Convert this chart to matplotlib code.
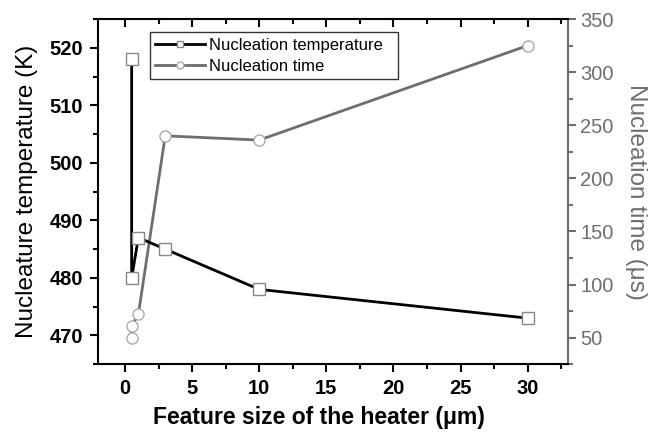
import matplotlib
matplotlib.use("Agg")
import matplotlib.pyplot as plt
from matplotlib.ticker import MultipleLocator

plt.rcParams['font.family'] = ['Liberation Sans', 'DejaVu Sans']

# Feature size of the heater (um)
size_temp = [0.5, 0.5, 1, 3, 10, 30]
temperature = [518, 480, 487, 485, 478, 473]   # K

size_time = [0.5, 0.5, 1, 3, 10, 30]
nuc_time = [50, 61, 72, 240, 236, 325]          # us

gray = '#6e6e6e'

fig = plt.figure(figsize=(6.54, 4.32), dpi=100)
ax = fig.add_axes([0.150, 0.157, 0.7185, 0.799])
ax2 = ax.twinx()

l1, = ax.plot(size_temp, temperature, '-', color='black', lw=2,
              marker='s', ms=8, mfc='white', mec='#888888', mew=1.0,
              label='Nucleation temperature')
l2, = ax2.plot(size_time, nuc_time, '-', color=gray, lw=2,
               marker='o', ms=8, mfc='white', mec='#aaaaaa', mew=1.0,
               label='Nucleation time')

ax.set_xlim(-2, 33)
ax.set_ylim(465, 525)
ax2.set_ylim(25, 350)

ax.xaxis.set_major_locator(MultipleLocator(5))
ax.xaxis.set_minor_locator(MultipleLocator(2.5))
ax.yaxis.set_major_locator(MultipleLocator(10))
ax.yaxis.set_minor_locator(MultipleLocator(5))
ax2.yaxis.set_major_locator(MultipleLocator(50))
ax2.yaxis.set_minor_locator(MultipleLocator(25))

ax.set_zorder(ax2.get_zorder() + 1)
ax.patch.set_visible(False)

for sp in ['left', 'bottom', 'top']:
    ax.spines[sp].set_linewidth(1.5)
ax.spines['right'].set_visible(False)
ax2.spines['left'].set_visible(False)
ax2.spines['top'].set_visible(False)
ax2.spines['bottom'].set_visible(False)
ax2.spines['right'].set_color(gray)
ax2.spines['right'].set_linewidth(1.5)

ax.tick_params(axis='both', which='major', direction='out', length=6, width=1.5,
               labelsize=14.5, pad=5)
ax.tick_params(axis='both', which='minor', direction='out', length=3.5, width=1.5)
ax.tick_params(axis='x', which='both', top=True)
for lab in ax.get_xticklabels() + ax.get_yticklabels():
    lab.set_fontweight('bold')

ax2.tick_params(axis='y', which='major', direction='out', length=6, width=1.5,
                colors=gray, labelsize=14.5, pad=3)
ax2.tick_params(axis='y', which='minor', direction='out', length=3.5, width=1.5,
                colors=gray)

# top ticks point inward
for t in ax.xaxis.get_major_ticks() + ax.xaxis.get_minor_ticks():
    t.tick2line.set_marker(3)

ax.set_xlabel('Feature size of the heater (\u03bcm)', fontsize=16.5,
              fontweight='bold')
ax.xaxis.set_label_coords(0.47, -0.122)
ax.set_ylabel('Nucleature temperature (K)', fontsize=17.5, labelpad=8)
ax2.set_ylabel('Nucleation time (\u03bcs)', fontsize=17.5, color=gray,
               rotation=270, labelpad=24)

leg = ax.legend([l1, l2], ['Nucleation temperature  ', 'Nucleation time'],
                loc='upper left', bbox_to_anchor=(0.11, 0.961), fontsize=12,
                frameon=True, fancybox=False, handlelength=3.0,
                borderpad=0.33, labelspacing=0.35, handletextpad=0.25,
                borderaxespad=0)
leg.get_frame().set_edgecolor('black')
leg.get_frame().set_linewidth(1.0)
for h in leg.legend_handles:
    h.set_markersize(5)

fig.savefig('out.png', dpi=100)
